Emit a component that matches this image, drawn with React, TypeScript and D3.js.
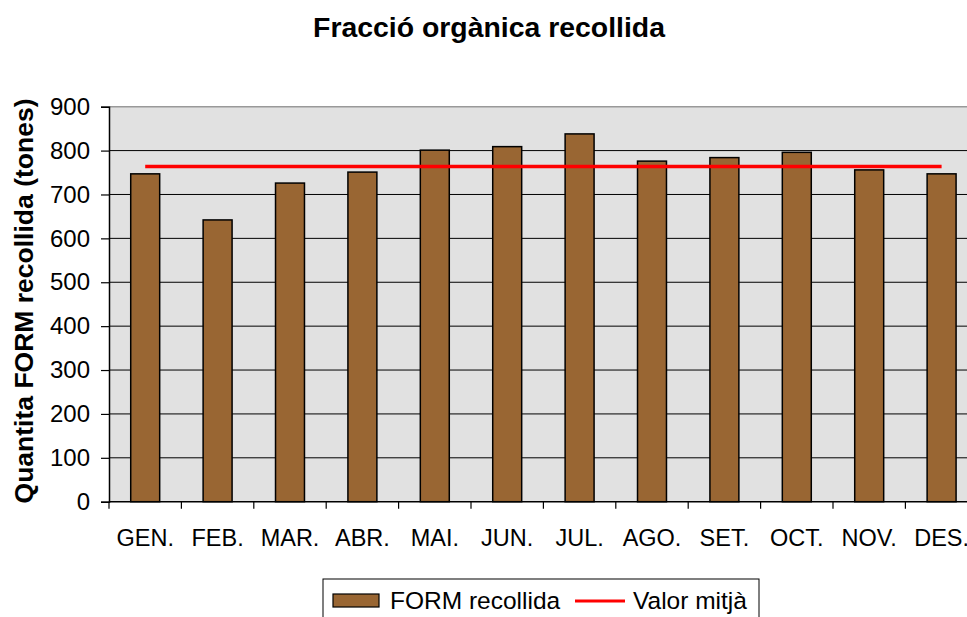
import React, { useEffect, useRef } from "react";
import * as d3 from "d3";

const months = ["GEN.", "FEB.", "MAR.", "ABR.", "MAI.", "JUN.", "JUL.", "AGO.", "SET.", "OCT.", "NOV.", "DES."];
const formValues = [747, 642, 726, 751, 801, 809, 838, 776, 784, 796, 756, 747];
const meanValue = 764;
const yTicks = [0, 100, 200, 300, 400, 500, 600, 700, 800, 900];

const App = () => {
  const ref = useRef<SVGSVGElement>(null);

  useEffect(() => {
    const svg = d3.select(ref.current);
    svg.selectAll("*").remove();

    const width = 967;
    const height = 617;
    const left = 109;
    const top = 106.7;
    const bottom = 501.7;
    const band = 72.4;
    const right = left + band * months.length;
    const font = "Arial, 'Liberation Sans', sans-serif";

    const x = d3.scaleBand().domain(months).range([left, right]).paddingInner(0.6).paddingOuter(0.3);
    const xb = d3.scaleBand().domain(months).range([left, right]);
    const y = d3.scaleLinear().domain([0, 900]).range([bottom, top]);

    svg.attr("width", width).attr("height", height);

    // plot background
    svg.append("rect")
      .attr("x", left).attr("y", top)
      .attr("width", right - left).attr("height", bottom - top)
      .attr("fill", "#e1e1e1");
    svg.append("line")
      .attr("x1", left).attr("x2", right).attr("y1", top).attr("y2", top)
      .attr("stroke", "#999").attr("stroke-width", 1.5);

    // gridlines
    svg.append("g").selectAll("line")
      .data(yTicks.filter(d => d > 0 && d < 900))
      .join("line")
      .attr("x1", left).attr("x2", right)
      .attr("y1", d => y(d)).attr("y2", d => y(d))
      .attr("stroke", "#000").attr("stroke-width", 1);

    // bars
    svg.append("g").selectAll("rect")
      .data(formValues)
      .join("rect")
      .attr("x", (d, i) => x(months[i])!)
      .attr("y", d => y(d))
      .attr("width", x.bandwidth())
      .attr("height", d => bottom - y(d))
      .attr("fill", "#996633")
      .attr("stroke", "#000")
      .attr("stroke-width", 1.5);

    // mean line
    const line = d3.line<string>()
      .x(d => xb(d)! + xb.bandwidth() / 2)
      .y(() => y(meanValue));
    svg.append("path")
      .datum([months[0], months[months.length - 1]])
      .attr("d", line)
      .attr("fill", "none")
      .attr("stroke", "#ff0000")
      .attr("stroke-width", 3.5);

    // y axis
    const yAxis = d3.axisLeft(y).tickValues(yTicks).tickSize(8).tickPadding(11);
    const gy = svg.append("g").attr("transform", `translate(${left},0)`).call(yAxis);
    gy.select(".domain").attr("stroke", "#000").attr("stroke-width", 1.5);
    gy.selectAll(".tick line").attr("stroke", "#000").attr("stroke-width", 1.2);
    gy.selectAll(".tick text").attr("font-family", font).attr("font-size", 24).attr("fill", "#000");

    // x axis
    const xAxis = d3.axisBottom(xb).tickSize(0).tickPadding(28);
    const gx = svg.append("g").attr("transform", `translate(0,${bottom})`).call(xAxis);
    gx.select(".domain").remove();
    gx.selectAll(".tick text").attr("font-family", font).attr("font-size", 23.5).attr("fill", "#000");
    svg.append("line")
      .attr("x1", left).attr("x2", right).attr("y1", bottom).attr("y2", bottom)
      .attr("stroke", "#000").attr("stroke-width", 1.5);
    svg.append("g").selectAll("line")
      .data(d3.range(months.length + 1))
      .join("line")
      .attr("x1", i => left + i * xb.step()).attr("x2", i => left + i * xb.step())
      .attr("y1", bottom).attr("y2", bottom + 7)
      .attr("stroke", "#000").attr("stroke-width", 1.2);

    // title
    svg.append("text")
      .attr("x", 489).attr("y", 37)
      .attr("text-anchor", "middle")
      .attr("font-family", font).attr("font-weight", "bold").attr("font-size", 28.4)
      .text("Fracció orgànica recollida");

    // y title
    svg.append("text")
      .attr("transform", `translate(33,${301}) rotate(-90)`)
      .attr("text-anchor", "middle")
      .attr("font-family", font).attr("font-weight", "bold").attr("font-size", 26.5)
      .text("Quantita FORM recollida (tones)");

    // legend
    const lg = svg.append("g");
    lg.append("rect")
      .attr("x", 323).attr("y", 579).attr("width", 436).attr("height", 50)
      .attr("fill", "#fff").attr("stroke", "#000").attr("stroke-width", 1);
    lg.append("rect")
      .attr("x", 333).attr("y", 594).attr("width", 46).attr("height", 13)
      .attr("fill", "#996633").attr("stroke", "#000").attr("stroke-width", 1.2);
    lg.append("text")
      .attr("x", 390).attr("y", 609)
      .attr("font-family", font).attr("font-size", 24.5)
      .text("FORM recollida");
    lg.append("line")
      .attr("x1", 575).attr("x2", 625).attr("y1", 601).attr("y2", 601)
      .attr("stroke", "#ff0000").attr("stroke-width", 3);
    lg.append("text")
      .attr("x", 633).attr("y", 609)
      .attr("font-family", font).attr("font-size", 24.5)
      .text("Valor mitjà");
  }, []);

  return <svg ref={ref} style={{ position: "absolute", left: 0, top: 0 }}></svg>;
};

export default App;
